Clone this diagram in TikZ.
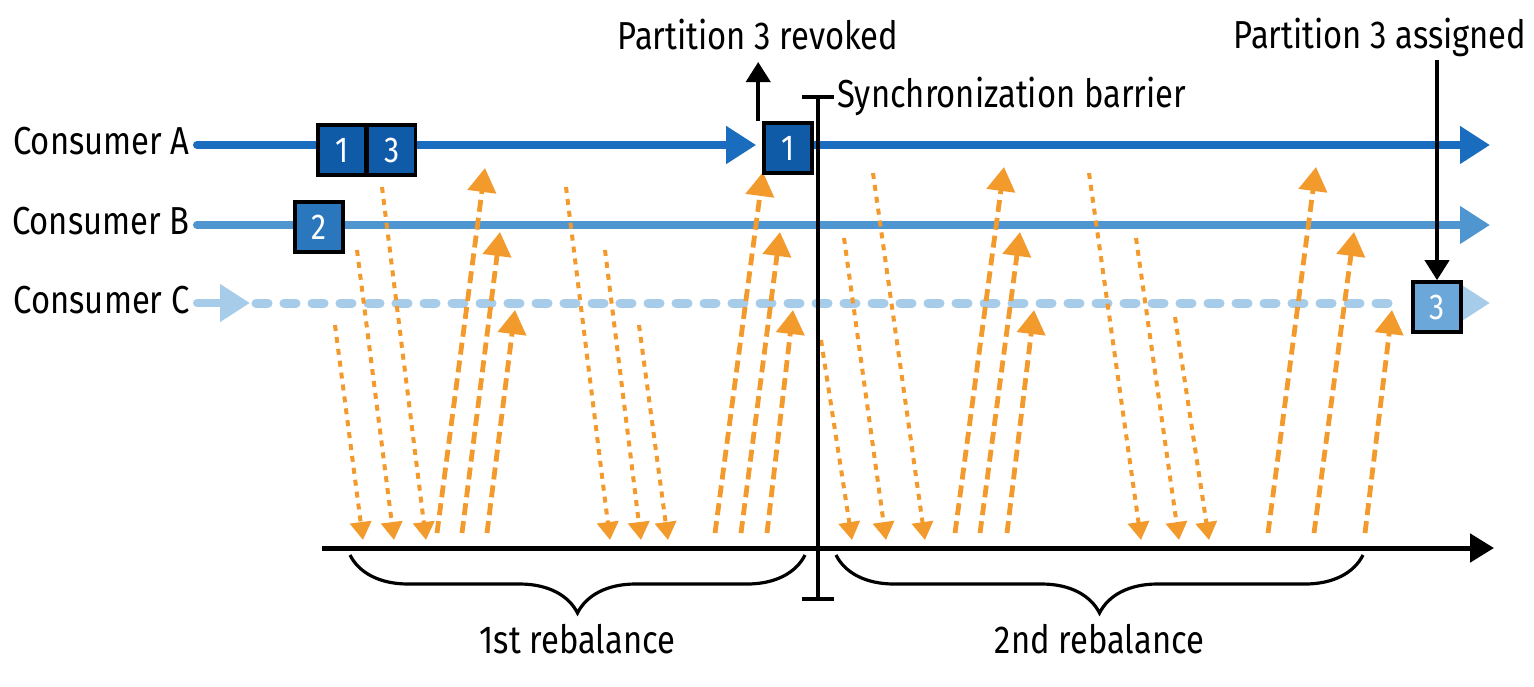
\documentclass[tikz,border=0pt]{standalone}
\usepackage{fontspec}
\setmainfont[FakeStretch=0.84]{Fira Sans}
\usetikzlibrary{arrows.meta,decorations.pathreplacing,positioning}
\pgfdeclarelayer{background}
\pgfsetlayers{background,main}
\definecolor{consA}{HTML}{1A6DBE}
\definecolor{boxA}{HTML}{0F5BA8}
\definecolor{consB}{HTML}{4F96D1}
\definecolor{boxB}{HTML}{2A77BD}
\definecolor{consC}{HTML}{A6CCE9}
\definecolor{boxC}{HTML}{6BA7D9}
\definecolor{msg}{HTML}{F39A2C}

\begin{document}
\begin{tikzpicture}[x=0.5pt,y=-0.5pt,
  lbl/.style={font=\fontsize{19.5}{22}\selectfont, inner sep=0pt},
  pbox/.style={draw=black, line width=1.8pt, minimum width=24pt, minimum height=25pt,
    inner sep=0pt, text=white, font=\fontsize{18}{20}\selectfont},
  flow/.style={line width=4pt, line cap=round, -{Triangle[length=15pt,width=18pt]}},
  sendmsg/.style={msg, line width=2pt, dash pattern=on 3pt off 3pt,
    -{Triangle[length=9pt,width=10.5pt]}},
  recvmsg/.style={msg, line width=2.4pt, dash pattern=on 6pt off 3pt,
    -{Triangle[length=12pt,width=14pt]}},
  notearrow/.style={line width=2pt, -{Triangle[length=10pt,width=12pt]}},
  axisline/.style={line width=2.5pt, -{Triangle[length=12pt,width=14pt]}},
  rebal/.style={line width=1.6pt, decorate, decoration={brace, mirror, amplitude=29pt}}]
  \useasboundingbox (0,0) rectangle (1534,686);

  % consumers
  \node[lbl, anchor=base east] (lblA) at (190,154) {Consumer A};
  \node[lbl, anchor=base east] (lblB) at (190,234) {Consumer B};
  \node[lbl, anchor=base east] (lblC) at (190,313) {Consumer C};
  \coordinate (a0) at (197,145);
  \coordinate (b0) at (197,225);
  \coordinate (c0) at (197,303);
  \coordinate (aEnd) at (1490,145);
  \coordinate (bEnd) at (1490,225);
  \coordinate (cEnd) at (1490,303);

  % partitions
  \node[pbox, fill=boxA] (pa1) at (342,150) {1};
  \node[pbox, fill=boxA, right=-1pt of pa1] (pa3) {3};
  \node[pbox, fill=boxB] (pb2) at (319,227) {2};
  \node[pbox, fill=boxA] (pa1r) at (788,148) {1};
  \node[pbox, fill=boxC] (pc3) at (1437,307) {3};

  \begin{pgfonlayer}{background}
    % timelines
    \draw[flow, consA] (a0) -- ([xshift=-3pt]pa1r.west |- a0);
    \draw[flow, consA] (pa1r.east |- a0) -- (aEnd);
    \draw[flow, consB] (b0) -- (bEnd);
    \draw[flow, consC] (c0) -- (250,303);
    \draw[consC, line width=4.5pt, line cap=round, dash pattern=on 6pt off 8pt]
      (256,303) -- ([xshift=-4pt]pc3.west |- c0);
    \draw[flow, consC, line cap=butt] (pc3.east |- c0) -- (cEnd);

    % messages to the coordinator
    \foreach \xa/\ya/\xb in {335/325/363, 357/250/394, 382/187/426,
                             566/187/610, 605/250/641, 639/325/668,
                             821/340/852, 844/238/886, 873/173/925,
                             1089/173/1141, 1136/238/1179, 1175/317/1209}
      \draw[sendmsg] (\xa,\ya) -- (\xb,540);
    % answers back to the consumers
    \foreach \xa/\xb/\yb in {437/485/168, 462/500/232, 487/515/310,
                             715/763/172, 741/780/232, 767/793/310,
                             955/1004/167, 980/1020/232, 1007/1034/310,
                             1268/1316/167, 1314/1354/232, 1365/1392/310}
      \draw[recvmsg] (\xa,533) -- (\xb,\yb);
  \end{pgfonlayer}

  % revoke / assign
  \node[lbl, anchor=base] (rev) at (758,49) {Partition 3 revoked};
  \node[lbl, anchor=base] (asg) at (1380,48) {Partition 3 assigned};
  \draw[notearrow] ([xshift=-2pt]pa1r.north west) -- ([xshift=-2pt]pa1r.north west |- 0,62);
  \draw[notearrow] (pc3.north |- 0,60) -- (pc3.north);

  % barrier
  \coordinate (bTop) at (818,95);
  \coordinate (bBot) at (818,601);
  \draw[line width=2pt, {Bar[width=16pt]}-{Bar[width=16pt]}] (bTop) -- (bBot);
  \node[lbl, anchor=base west] (sync) at (837,107) {Synchronization barrier};

  % time axis
  \coordinate (t0) at (322,548);
  \coordinate (t1) at (1494,548);
  \draw[axisline] (t0) -- (t1);

  % rebalances
  \draw[rebal] (350,555) -- (805,555) node[midway, below=34pt, lbl] (reb1) {1st rebalance};
  \draw[rebal] (836,555) -- (1363,555) node[midway, below=34pt, lbl] (reb2) {2nd rebalance};
\end{tikzpicture}
\end{document}
